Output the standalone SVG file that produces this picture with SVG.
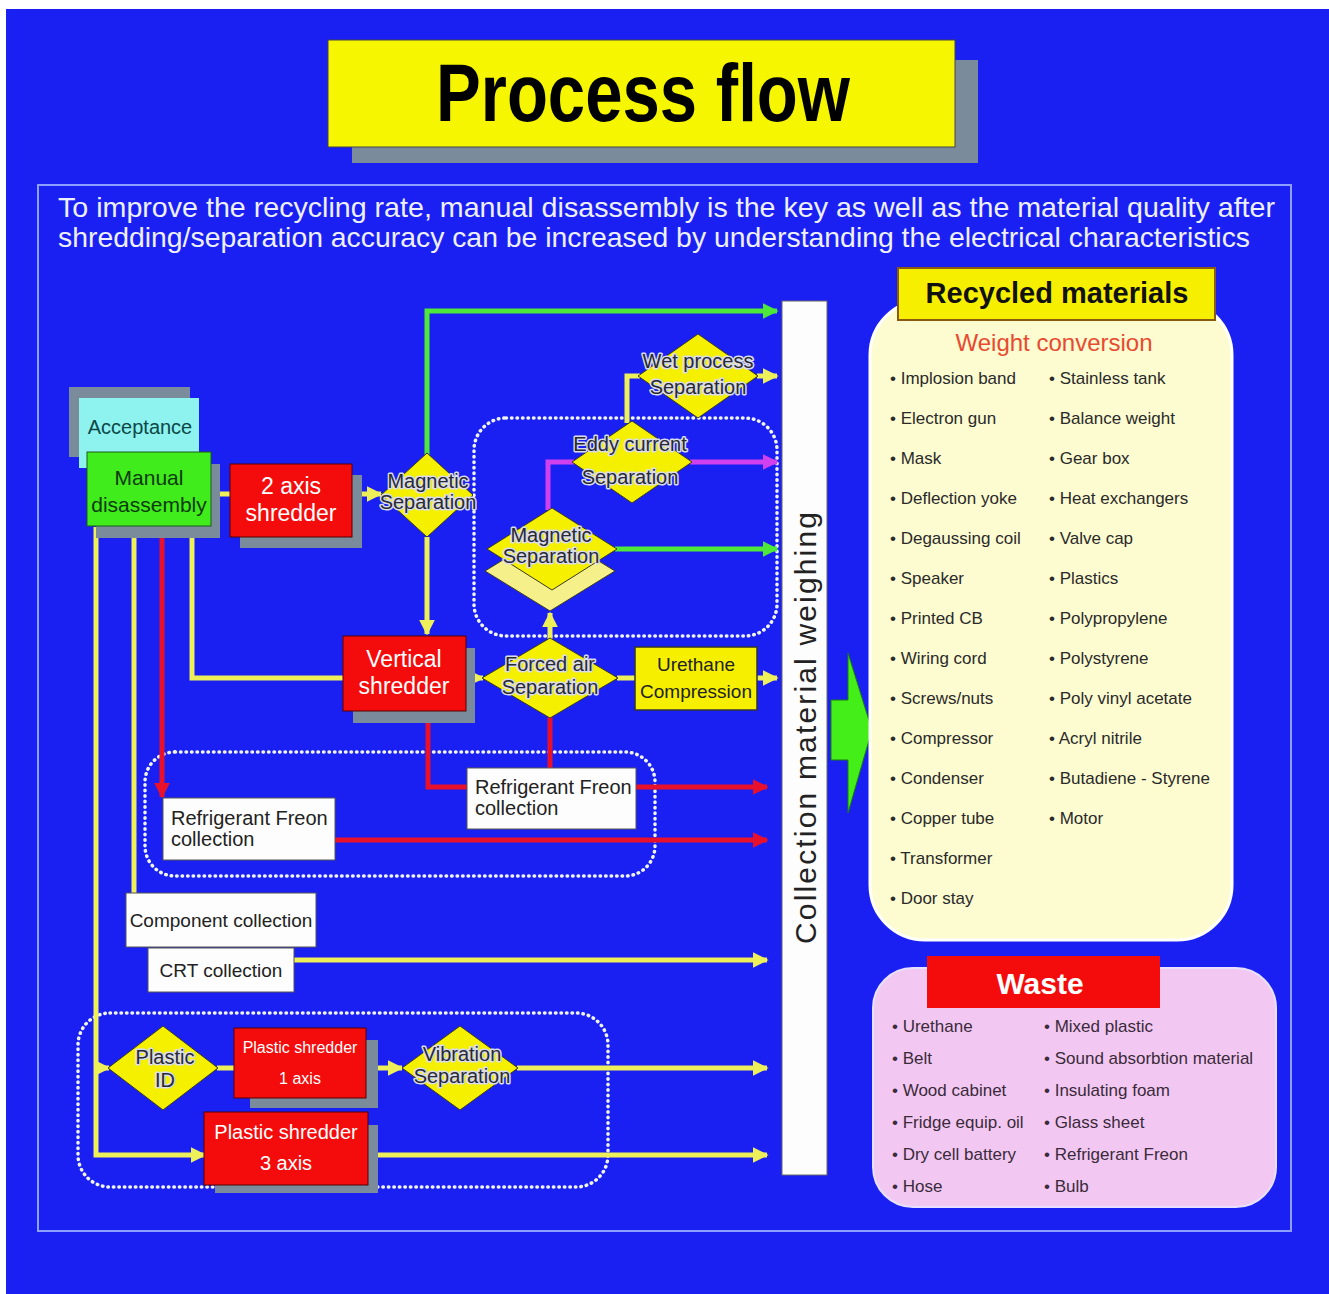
<svg xmlns="http://www.w3.org/2000/svg" width="1329" height="1294" viewBox="0 0 1329 1294">
  <defs>
    <style>
      .t { font-family: "Liberation Sans Narrow", "Liberation Sans", Arial, sans-serif; }
      .dia { fill: #f4f000; stroke: #3a3a20; stroke-width: 1; }
      .dlab { font-size: 20px; fill: #2a2a30; text-anchor: middle; stroke: #d8dcec; stroke-width: 3; paint-order: stroke; stroke-linejoin: round; }
      .red { fill: #f40c0c; stroke: #500; stroke-width: 1; }
      .rlab { font-size: 23px; fill: #fff; text-anchor: middle; }
      .shadow { fill: #7a8c9c; }
      .wbox { fill: #fdfdfd; stroke: #555; stroke-width: 1; }
      .wlab { font-size: 20px; fill: #222; }
      .dots { fill: none; stroke: #f0f4ff; stroke-width: 3.5; stroke-dasharray: 0.5 5; stroke-linecap: round; }
      .c { fill: none; stroke-width: 5; stroke-linejoin: miter; }
      .cy { stroke: #eef05a; }
      .cg { stroke: #4ee83a; }
      .cm { stroke: #d040ee; }
      .cr { stroke: #e8102a; }
      .item { font-size: 17px; fill: #2a2a2a; }
      .witem { font-size: 17px; fill: #3a2a3a; }
    </style>
    <marker id="ay" viewBox="0 0 10 10" refX="9" refY="5" markerWidth="3.2" markerHeight="3.2" orient="auto" markerUnits="strokeWidth">
      <path d="M0,0 L10,5 L0,10 z" fill="#eef05a"/>
    </marker>
    <marker id="ag" viewBox="0 0 10 10" refX="9" refY="5" markerWidth="3.2" markerHeight="3.2" orient="auto" markerUnits="strokeWidth">
      <path d="M0,0 L10,5 L0,10 z" fill="#4ee83a"/>
    </marker>
    <marker id="am" viewBox="0 0 10 10" refX="9" refY="5" markerWidth="3.2" markerHeight="3.2" orient="auto" markerUnits="strokeWidth">
      <path d="M0,0 L10,5 L0,10 z" fill="#d040ee"/>
    </marker>
    <marker id="ar" viewBox="0 0 10 10" refX="9" refY="5" markerWidth="3.2" markerHeight="3.2" orient="auto" markerUnits="strokeWidth">
      <path d="M0,0 L10,5 L0,10 z" fill="#e8102a"/>
    </marker>
  </defs>

  <!-- page -->
  <rect x="0" y="0" width="1329" height="1294" fill="#ffffff"/>
  <rect x="6" y="9" width="1323" height="1285" fill="#1a20f2"/>

  <!-- title -->
  <g id="title">
    <rect x="352" y="60" width="626" height="103" fill="#7a8c9c"/>
    <rect x="328" y="40" width="627" height="107" fill="#f6f600" stroke="#444" stroke-width="1"/>
    <text class="t" x="643" y="121" font-size="82" font-weight="bold" text-anchor="middle" fill="#000" textLength="414" lengthAdjust="spacingAndGlyphs">Process flow</text>
  </g>

  <!-- frame and lead text -->
  <rect x="38" y="185" width="1253" height="1046" fill="none" stroke="#8ea0ff" stroke-width="2"/>
  <g id="lead" class="t" font-size="28" fill="#eef0ff">
    <text x="58" y="217" textLength="1217" lengthAdjust="spacingAndGlyphs">To improve the recycling rate, manual disassembly is the key as well as the material quality after</text>
    <text x="58" y="247" textLength="1192" lengthAdjust="spacingAndGlyphs">shredding/separation accuracy can be increased by understanding the electrical characteristics</text>
  </g>

  <!-- dotted groupings -->
  <rect class="dots" x="474" y="418" width="303" height="218" rx="32"/>
  <rect class="dots" x="145" y="752" width="510" height="124" rx="30"/>
  <rect class="dots" x="78" y="1013" width="530" height="174" rx="32"/>

  <!-- connectors -->
  <g id="connectors">
    <path class="c cy" d="M220,494 H232"/>
    <path class="c cy" d="M362,494 H381" marker-end="url(#ay)"/>
    <path class="c cg" d="M427,455 V311 H777" marker-end="url(#ag)"/>
    <path class="c cy" d="M427,537 V634" marker-end="url(#ay)"/>
    <path class="c cy" d="M627,423 V376 H640"/>
    <path class="c cy" d="M757,376 H777" marker-end="url(#ay)"/>
    <path class="c cm" d="M690,462 H777" marker-end="url(#am)"/>
    <path class="c cm" d="M548,510 V462 H574"/>
    <path class="c cg" d="M615,549 H777" marker-end="url(#ag)"/>
    <path class="c cy" d="M550,640 V613" marker-end="url(#ay)"/>
    <path class="c cy" d="M192,527 V678 H345"/>
    <path class="c cy" d="M466,678 H483" marker-end="url(#ay)"/>
    <path class="c cy" d="M617,678 H636"/>
    <path class="c cy" d="M757,678 H777" marker-end="url(#ay)"/>
    <path class="c cr" d="M550,717 V770"/>
    <path class="c cr" d="M428,712 V787 H767" marker-end="url(#ar)"/>
    <path class="c cr" d="M162,526 V797" marker-end="url(#ar)"/>
    <path class="c cr" d="M327,840 H767" marker-end="url(#ar)"/>
    <path class="c cy" d="M134,527 V894"/>
    <path class="c cy" d="M293,960 H767" marker-end="url(#ay)"/>
    <path class="c cy" d="M96,527 V1155 H205" marker-end="url(#ay)"/>
    <path class="c cy" d="M96,1068 H109" marker-end="url(#ay)"/>
    <path class="c cy" d="M217,1068 H236"/>
    <path class="c cy" d="M378,1068 H402" marker-end="url(#ay)"/>
    <path class="c cy" d="M517,1068 H767" marker-end="url(#ay)"/>
    <path class="c cy" d="M368,1155 H767" marker-end="url(#ay)"/>
  </g>

  <!-- left column: intake -->
  <g id="acceptance">
    <rect class="shadow" x="69" y="387" width="121" height="70"/>
    <rect x="79" y="398" width="120" height="70" fill="#8ef2ee"/>
    <text class="t" x="140" y="434" font-size="20" text-anchor="middle" fill="#0b4848">Acceptance</text>
  </g>
  <g id="manual-disassembly">
    <rect class="shadow" x="96" y="464" width="124" height="74"/>
    <rect x="87" y="452" width="124" height="74" fill="#40ec1c" stroke="#1a5a1a" stroke-width="1"/>
    <text class="t" x="149" y="485" font-size="21" text-anchor="middle" fill="#0c3a0c">Manual</text>
    <text class="t" x="149" y="512" font-size="21" text-anchor="middle" fill="#0c3a0c">disassembly</text>
  </g>
  <g id="shredder-2axis">
    <rect class="shadow" x="240" y="475" width="122" height="73"/>
    <rect class="red" x="230" y="464" width="122" height="73"/>
    <text class="t rlab" x="291" y="494">2 axis</text>
    <text class="t rlab" x="291" y="521">shredder</text>
  </g>
  <g id="magnetic-separation-1">
    <polygon class="dia" points="427,453 473,495 427,537 381,495"/>
    <text class="t dlab" x="428" y="488">Magnetic</text>
    <text class="t dlab" x="428" y="509">Separation</text>
  </g>

  <!-- upper separation stages -->
  <g id="wet-process-separation">
    <polygon class="dia" points="698,334 758,376 698,418 638,376"/>
    <text class="t dlab" x="698" y="368">Wet process</text>
    <text class="t dlab" x="698" y="394">Separation</text>
  </g>
  <g id="eddy-current-separation">
    <polygon class="dia" points="632,421 692,462 632,503 572,462"/>
    <text class="t dlab" x="630" y="451">Eddy current</text>
    <text class="t dlab" x="630" y="484">Separation</text>
  </g>
  <g id="magnetic-separation-2">
    <polygon points="550,531 615,571 550,611 485,571" fill="#f6f08a" stroke="#3a3a20" stroke-width="1"/>
    <polygon class="dia" points="552,508 617,549 552,590 487,549"/>
    <text class="t dlab" x="551" y="542">Magnetic</text>
    <text class="t dlab" x="551" y="563">Separation</text>
  </g>

  <!-- middle stages -->
  <g id="vertical-shredder">
    <rect class="shadow" x="353" y="648" width="122" height="75"/>
    <rect class="red" x="343" y="636" width="123" height="75"/>
    <text class="t rlab" x="404" y="667">Vertical</text>
    <text class="t rlab" x="404" y="694">shredder</text>
  </g>
  <g id="forced-air-separation">
    <polygon class="dia" points="550,638 618,678 550,718 482,678"/>
    <text class="t dlab" x="550" y="671">Forced air</text>
    <text class="t dlab" x="550" y="694">Separation</text>
  </g>
  <g id="urethane-compression">
    <rect x="635" y="647" width="122" height="63" fill="#f6f000" stroke="#333" stroke-width="1.5"/>
    <text class="t" x="696" y="671" font-size="19" text-anchor="middle" fill="#222">Urethane</text>
    <text class="t" x="696" y="698" font-size="19" text-anchor="middle" fill="#222">Compression</text>
  </g>
  <g id="freon-collection-2">
    <rect class="wbox" x="467" y="768" width="169" height="61"/>
    <text class="t wlab" x="475" y="794">Refrigerant Freon</text>
    <text class="t wlab" x="475" y="815">collection</text>
  </g>
  <g id="freon-collection-1">
    <rect class="wbox" x="163" y="798" width="172" height="62"/>
    <text class="t wlab" x="171" y="825">Refrigerant Freon</text>
    <text class="t wlab" x="171" y="846">collection</text>
  </g>
  <g id="component-collection">
    <rect class="wbox" x="126" y="893" width="190" height="54"/>
    <text class="t" x="221" y="927" font-size="19" text-anchor="middle" fill="#222">Component collection</text>
  </g>
  <g id="crt-collection">
    <rect class="wbox" x="148" y="948" width="146" height="44"/>
    <text class="t" x="221" y="977" font-size="19" text-anchor="middle" fill="#222">CRT collection</text>
  </g>

  <!-- plastics line -->
  <g id="plastic-id">
    <polygon class="dia" points="163,1026 218,1068 163,1110 108,1068"/>
    <text class="t dlab" x="165" y="1064">Plastic</text>
    <text class="t dlab" x="165" y="1087">ID</text>
  </g>
  <g id="plastic-shredder-1axis">
    <rect class="shadow" x="250" y="1040" width="128" height="68"/>
    <rect class="red" x="234" y="1028" width="132" height="70"/>
    <text class="t" x="300" y="1053" font-size="16" text-anchor="middle" fill="#fff">Plastic shredder</text>
    <text class="t" x="300" y="1084" font-size="16" text-anchor="middle" fill="#fff">1 axis</text>
  </g>
  <g id="vibration-separation">
    <polygon class="dia" points="460,1026 518,1068 460,1110 402,1068"/>
    <text class="t dlab" x="462" y="1061">Vibration</text>
    <text class="t dlab" x="462" y="1083">Separation</text>
  </g>
  <g id="plastic-shredder-3axis">
    <rect class="shadow" x="215" y="1125" width="163" height="68"/>
    <rect class="red" x="204" y="1112" width="164" height="73"/>
    <text class="t" x="286" y="1139" font-size="20" text-anchor="middle" fill="#fff">Plastic shredder</text>
    <text class="t" x="286" y="1170" font-size="20" text-anchor="middle" fill="#fff">3 axis</text>
  </g>

  <!-- weighing bar and output arrow -->
  <g id="collection-weighing">
    <rect x="782" y="301" width="45" height="874" fill="#fdfdfd" stroke="#666" stroke-width="1"/>
    <text transform="translate(816,728) rotate(-90)" font-size="30" text-anchor="middle" fill="#222" font-family="Liberation Sans, Arial, sans-serif" textLength="432" lengthAdjust="spacing">Collection material weighing</text>
  </g>
  <g id="output-arrow">
    <polygon points="831,700 848,700 848,653 872,730 848,813 848,760 831,760" fill="#44ee18" stroke="#1a7a10" stroke-width="1"/>
  </g>

  <!-- recycled materials panel -->
  <g id="recycled-materials">
    <rect x="870" y="300" width="362" height="640" rx="55" fill="#fdfbd0" stroke="#ffffff" stroke-width="3"/>
    <rect x="898" y="268" width="317" height="52" fill="#f6f000" stroke="#8a5a10" stroke-width="2"/>
    <text class="t" x="1057" y="303" font-size="29" font-weight="bold" text-anchor="middle" fill="#111">Recycled materials</text>
    <text class="t" x="1054" y="351" font-size="24" text-anchor="middle" fill="#e84a30">Weight conversion</text>
    <g class="t item">
      <text x="890" y="384">• Implosion band</text>
      <text x="890" y="424">• Electron gun</text>
      <text x="890" y="464">• Mask</text>
      <text x="890" y="504">• Deflection yoke</text>
      <text x="890" y="544">• Degaussing coil</text>
      <text x="890" y="584">• Speaker</text>
      <text x="890" y="624">• Printed CB</text>
      <text x="890" y="664">• Wiring cord</text>
      <text x="890" y="704">• Screws/nuts</text>
      <text x="890" y="744">• Compressor</text>
      <text x="890" y="784">• Condenser</text>
      <text x="890" y="824">• Copper tube</text>
      <text x="890" y="864">• Transformer</text>
      <text x="890" y="904">• Door stay</text>
      <text x="1049" y="384">• Stainless tank</text>
      <text x="1049" y="424">• Balance weight</text>
      <text x="1049" y="464">• Gear box</text>
      <text x="1049" y="504">• Heat exchangers</text>
      <text x="1049" y="544">• Valve cap</text>
      <text x="1049" y="584">• Plastics</text>
      <text x="1049" y="624">• Polypropylene</text>
      <text x="1049" y="664">• Polystyrene</text>
      <text x="1049" y="704">• Poly vinyl acetate</text>
      <text x="1049" y="744">• Acryl nitrile</text>
      <text x="1049" y="784">• Butadiene - Styrene</text>
      <text x="1049" y="824">• Motor</text>
    </g>
  </g>

  <!-- waste panel -->
  <g id="waste">
    <rect x="873" y="968" width="403" height="239" rx="40" fill="#f2c8f2" stroke="#e8e0ff" stroke-width="2"/>
    <rect x="927" y="956" width="233" height="52" fill="#f40c0c"/>
    <text class="t" x="1040" y="994" font-size="30" font-weight="bold" text-anchor="middle" fill="#fff">Waste</text>
    <g class="t witem">
      <text x="892" y="1032">• Urethane</text>
      <text x="892" y="1064">• Belt</text>
      <text x="892" y="1096">• Wood cabinet</text>
      <text x="892" y="1128">• Fridge equip. oil</text>
      <text x="892" y="1160">• Dry cell battery</text>
      <text x="892" y="1192">• Hose</text>
      <text x="1044" y="1032">• Mixed plastic</text>
      <text x="1044" y="1064">• Sound absorbtion material</text>
      <text x="1044" y="1096">• Insulating foam</text>
      <text x="1044" y="1128">• Glass sheet</text>
      <text x="1044" y="1160">• Refrigerant Freon</text>
      <text x="1044" y="1192">• Bulb</text>
    </g>
  </g>
</svg>
